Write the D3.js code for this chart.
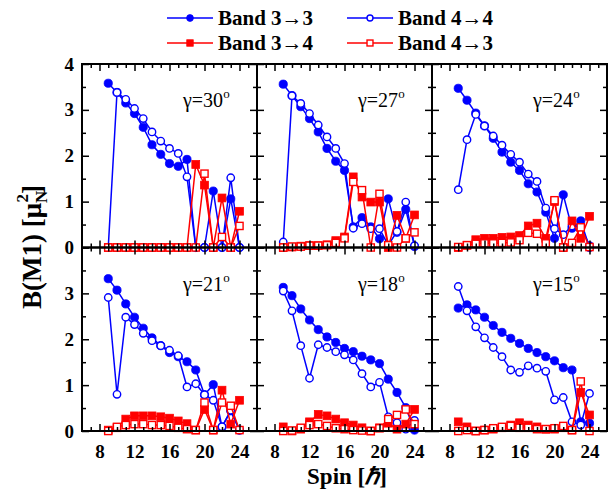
<!DOCTYPE html>
<html>
<head>
<meta charset="utf-8">
<script src="https://cdn.jsdelivr.net/npm/d3@7"></script>
<style>
  body { margin: 0; background: #fff; }
  svg { display: block; }
  text { font-family: "Liberation Serif", "Times New Roman", "DejaVu Serif", serif; }
</style>
</head>
<body>
<svg id="chart" width="613" height="491"></svg>
<script>
// Spin values (in units of hbar) shared by every series
const spins = [9, 10, 11, 12, 13, 14, 15, 16, 17, 18, 19, 20, 21, 22, 23, 24];

// Triaxial deformation gamma of each panel (degrees), in panel order
const gammas = [30, 27, 24, 21, 18, 15];

// Legend entries
const bandNames = ["Band 3\u21923", "Band 4\u21924", "Band 3\u21924", "Band 4\u21923"];

// B(M1) values, mu_N^2
const g30_b33 = [3.58, 3.38, 3.15, 2.92, 2.62, 2.24, 2.03, 1.83, 1.77, 1.92, 0.00, 0.00, 1.23, 0.00, 1.06, 0.00];
const g30_b44 = [0.00, 3.38, 3.23, 3.03, 2.81, 2.52, 2.32, 2.16, 2.05, 1.54, 0.00, 0.00, 0.00, 0.00, 1.52, 0.00];
const g30_b34 = [0.00, 0.00, 0.00, 0.00, 0.00, 0.00, 0.00, 0.00, 0.00, 0.00, 1.81, 1.36, 0.00, 1.08, 0.00, 0.79];
const g30_b43 = [0.00, 0.00, 0.00, 0.00, 0.00, 0.00, 0.00, 0.00, 0.00, 0.00, 0.00, 1.61, 0.00, 0.23, 0.00, 0.47];

const g27_b33 = [3.56, 3.31, 3.07, 2.81, 2.52, 2.16, 1.88, 1.68, 0.45, 0.65, 0.45, 0.19, 1.06, 0.33, 0.83, 0.02];
const g27_b44 = [0.12, 3.31, 3.14, 2.92, 2.67, 2.41, 2.16, 1.83, 0.42, 0.52, 0.41, 0.41, 0.05, 0.35, 0.99, 0.04];
const g27_b34 = [0.00, 0.01, 0.03, 0.04, 0.04, 0.06, 0.15, 0.23, 1.54, 1.10, 0.99, 0.99, 0.00, 0.70, 0.20, 0.71];
const g27_b43 = [0.00, 0.02, 0.02, 0.04, 0.04, 0.05, 0.10, 0.20, 1.43, 1.25, 0.00, 1.17, 0.05, 0.00, 0.20, 0.33];

const g24_b33 = [3.47, 3.21, 2.93, 2.65, 2.38, 2.08, 1.86, 1.68, 1.39, 1.21, 0.77, 0.20, 1.15, 0.42, 0.58, 0.00];
const g24_b44 = [1.26, 2.35, 2.90, 2.65, 2.43, 2.23, 2.03, 1.86, 1.60, 1.44, 0.86, 0.41, 0.28, 0.47, 0.46, 0.04];
const g24_b34 = [0.00, 0.05, 0.17, 0.20, 0.20, 0.22, 0.23, 0.26, 0.47, 0.53, 0.20, 1.00, 0.00, 0.58, 0.20, 0.68];
const g24_b43 = [0.01, 0.05, 0.08, 0.09, 0.09, 0.10, 0.11, 0.16, 0.32, 0.30, 0.09, 1.03, 0.00, 0.10, 0.44, 0.01];

const g21_b33 = [3.32, 3.07, 2.77, 2.48, 2.24, 2.03, 1.86, 1.71, 1.62, 1.51, 1.33, 0.79, 1.01, 0.09, 0.44, 0.02];
const g21_b44 = [2.91, 0.80, 2.48, 2.32, 2.13, 1.97, 1.86, 1.76, 1.64, 0.96, 1.03, 0.79, 0.67, 0.09, 0.45, 0.02];
const g21_b34 = [0.02, 0.07, 0.26, 0.33, 0.33, 0.33, 0.31, 0.28, 0.22, 0.16, 0.02, 0.47, 0.02, 0.89, 0.15, 0.67];
const g21_b43 = [0.00, 0.09, 0.13, 0.15, 0.15, 0.13, 0.13, 0.11, 0.07, 0.04, 0.02, 0.62, 0.02, 0.62, 0.55, 0.02];

const g18_b33 = [3.13, 2.95, 2.66, 2.42, 2.21, 2.05, 1.93, 1.80, 1.73, 1.63, 1.55, 1.47, 1.13, 0.84, 0.51, 0.02];
const g18_b44 = [3.05, 2.62, 1.86, 1.15, 1.88, 1.82, 1.73, 1.66, 1.55, 1.25, 0.96, 1.06, 0.31, 0.18, 0.04, 0.23];
const g18_b34 = [0.09, 0.00, 0.04, 0.20, 0.36, 0.33, 0.26, 0.18, 0.13, 0.07, 0.00, 0.07, 0.17, 0.04, 0.15, 0.47];
const g18_b43 = [0.00, 0.01, 0.07, 0.13, 0.15, 0.11, 0.06, 0.04, 0.02, 0.01, 0.00, 0.06, 0.26, 0.35, 0.47, 0.15];

const g15_b33 = [2.68, 2.75, 2.64, 2.48, 2.30, 2.15, 2.02, 1.91, 1.80, 1.71, 1.62, 1.53, 1.38, 1.33, 0.20, 0.17];
const g15_b44 = [3.15, 2.62, 2.27, 2.03, 1.82, 1.62, 1.33, 1.28, 1.42, 1.37, 1.30, 0.68, 0.73, 0.20, 0.13, 0.82];
const g15_b34 = [0.20, 0.09, 0.00, 0.02, 0.04, 0.07, 0.13, 0.18, 0.13, 0.09, 0.04, 0.04, 0.07, 0.02, 0.84, 0.35];
const g15_b43 = [0.00, 0.02, 0.00, 0.02, 0.06, 0.09, 0.11, 0.07, 0.07, 0.04, 0.04, 0.06, 0.11, 0.02, 1.08, 0.00];

// Axis tick values
const xMajorTicks = [8, 12, 16, 20, 24];
const yTopRowTicks = [0, 1, 2, 3, 4];
const yBottomRowTicks = [0, 1, 2, 3];

// Panel table built from the arrays above
const panelSeries = [
  [g30_b33, g30_b44, g30_b34, g30_b43],
  [g27_b33, g27_b44, g27_b34, g27_b43],
  [g24_b33, g24_b44, g24_b34, g24_b43],
  [g21_b33, g21_b44, g21_b34, g21_b43],
  [g18_b33, g18_b44, g18_b34, g18_b43],
  [g15_b33, g15_b44, g15_b34, g15_b43]
];

// Series styles: colour, marker shape, filled or open
const styles = [
  { color: "#0000ff", shape: "circle", filled: true },
  { color: "#0000ff", shape: "circle", filled: false },
  { color: "#ff0000", shape: "square", filled: true },
  { color: "#ff0000", shape: "square", filled: false }
];

const serif = '"Liberation Serif", "Times New Roman", serif';
const svg = d3.select("#chart");
const plotLeft = 82, plotTop = 64, panelW = 175, panelH = 183.5;

function drawMarker(g, shape, filled, color, cx, cy, size) {
  if (shape === "circle") {
    g.append("circle")
      .attr("cx", cx).attr("cy", cy)
      .attr("r", filled ? size : size - 0.4)
      .attr("fill", filled ? color : "#fff")
      .attr("stroke", color)
      .attr("stroke-width", filled ? 0.8 : 1.4);
  } else {
    const s = filled ? size * 1.9 : size * 1.75;
    g.append("rect")
      .attr("x", cx - s / 2).attr("y", cy - s / 2)
      .attr("width", s).attr("height", s)
      .attr("fill", filled ? color : "#fff")
      .attr("stroke", color)
      .attr("stroke-width", filled ? 0.8 : 1.4);
  }
}

panelSeries.forEach((series, i) => {
  const col = i % 3, row = Math.floor(i / 3);
  const x0 = plotLeft + col * panelW, y0 = plotTop + row * panelH;
  const x = d3.scaleLinear().domain([6, 26]).range([x0, x0 + panelW]);
  const y = d3.scaleLinear().domain([0, 4]).range([y0 + panelH, y0]);
  const g = svg.append("g");

  // data lines and markers
  series.forEach((vals, k) => {
    const st = styles[k];
    const pts = spins.map((s, j) => [s, vals[j]]);
    g.append("path")
      .datum(pts)
      .attr("fill", "none")
      .attr("stroke", st.color)
      .attr("stroke-width", 1.5)
      .attr("d", d3.line().x(d => x(d[0])).y(d => y(d[1])));
    const mg = g.append("g");
    pts.forEach(d => drawMarker(mg, st.shape, st.filled, st.color, x(d[0]), y(d[1]), 4.1));
  });

  // inward ticks on all four sides
  const axes = g.append("g").attr("class", "axes");
  const minorX = d3.range(7, 26, 1).filter(v => !xMajorTicks.includes(v));
  const minorY = [0.5, 1.5, 2.5, 3.5];
  const majorY = [0, 1, 2, 3, 4];

  const bottomMajor = d3.axisBottom(x).tickValues(xMajorTicks).tickSizeInner(-7).tickSizeOuter(0).tickPadding(14)
    .tickFormat(row === 1 ? d3.format("d") : () => "");
  const bottomMinor = d3.axisBottom(x).tickValues(minorX).tickSizeInner(-4).tickSizeOuter(0).tickFormat(() => "");
  const topMajor = d3.axisTop(x).tickValues(xMajorTicks).tickSizeInner(-7).tickSizeOuter(0).tickFormat(() => "");
  const topMinor = d3.axisTop(x).tickValues(minorX).tickSizeInner(-4).tickSizeOuter(0).tickFormat(() => "");
  const leftTickVals = row === 0 ? yTopRowTicks : yBottomRowTicks;
  const leftMajor = d3.axisLeft(y).tickValues(majorY).tickSizeInner(-7).tickSizeOuter(0).tickPadding(8)
    .tickFormat(v => (col === 0 && leftTickVals.includes(v)) ? d3.format("d")(v) : "");
  const leftMinor = d3.axisLeft(y).tickValues(minorY).tickSizeInner(-4).tickSizeOuter(0).tickFormat(() => "");
  const rightMajor = d3.axisRight(y).tickValues(majorY).tickSizeInner(-7).tickSizeOuter(0).tickFormat(() => "");
  const rightMinor = d3.axisRight(y).tickValues(minorY).tickSizeInner(-4).tickSizeOuter(0).tickFormat(() => "");

  const yb = y0 + panelH;
  const xr = x0 + panelW;
  [[bottomMajor, `translate(0,${yb})`], [bottomMinor, `translate(0,${yb})`],
   [topMajor, `translate(0,${y0})`], [topMinor, `translate(0,${y0})`],
   [leftMajor, `translate(${x0},0)`], [leftMinor, `translate(${x0},0)`],
   [rightMajor, `translate(${xr},0)`], [rightMinor, `translate(${xr},0)`]].forEach(([ax, tr]) => {
    const a = axes.append("g").attr("transform", tr).call(ax);
    a.select(".domain").remove();
    a.selectAll(".tick line").attr("stroke", "#000").attr("stroke-width", 1.5);
    a.selectAll(".tick text")
      .attr("fill", "#000")
      .style("font-family", serif)
      .style("font-weight", "bold")
      .style("font-size", "19px");
  });

  // panel frame
  g.append("rect")
    .attr("x", x0).attr("y", y0)
    .attr("width", panelW).attr("height", panelH)
    .attr("fill", "none").attr("stroke", "#000").attr("stroke-width", 2);

  // gamma label
  const gl = g.append("text")
    .attr("x", x0 + 101).attr("y", y0 + 43)
    .style("font-family", serif)
    .style("font-size", "20px")
    .attr("fill", "#000");
  gl.append("tspan").text("\u03b3=" + gammas[i]);
  gl.append("tspan").attr("dy", -9).style("font-size", "13px").text("o");
});

// Legend
const legendEntries = [
  { name: bandNames[0], st: styles[0], lx: 167, ly: 18 },
  { name: bandNames[1], st: styles[1], lx: 347, ly: 18 },
  { name: bandNames[2], st: styles[2], lx: 167, ly: 43 },
  { name: bandNames[3], st: styles[3], lx: 347, ly: 43 }
];
const lg = svg.append("g");
legendEntries.forEach(e => {
  lg.append("line")
    .attr("x1", e.lx).attr("x2", e.lx + 46)
    .attr("y1", e.ly).attr("y2", e.ly)
    .attr("stroke", e.st.color).attr("stroke-width", 1.5);
  drawMarker(lg, e.st.shape, e.st.filled, e.st.color, e.lx + 23, e.ly, 3.4);
  lg.append("text")
    .attr("x", e.lx + 51).attr("y", e.ly + 7)
    .style("font-family", serif)
    .style("font-size", "21px").style("font-weight", "bold")
    .attr("fill", "#000")
    .text(e.name);
});

// Axis titles
const yt = svg.append("text")
  .attr("transform", "translate(41,247) rotate(-90)")
  .attr("text-anchor", "middle")
  .style("font-family", serif)
  .style("font-size", "27px").style("font-weight", "bold")
  .attr("fill", "#000");
yt.append("tspan").text("B(M1) [\u03bc");
yt.append("tspan").attr("dy", 6).style("font-size", "17px").text("N");
yt.append("tspan").attr("dx", -12).attr("dy", -19).style("font-size", "17px").text("2");
yt.append("tspan").attr("dy", 13).text("]");

const xt = svg.append("text")
  .attr("x", 347).attr("y", 484)
  .attr("text-anchor", "middle")
  .style("font-family", serif)
  .style("font-size", "23px").style("font-weight", "bold")
  .attr("fill", "#000");
xt.append("tspan").text("Spin [");
xt.append("tspan").style("font-style", "italic").text("\u210f");
xt.append("tspan").text("]");
</script>
</body>
</html>
